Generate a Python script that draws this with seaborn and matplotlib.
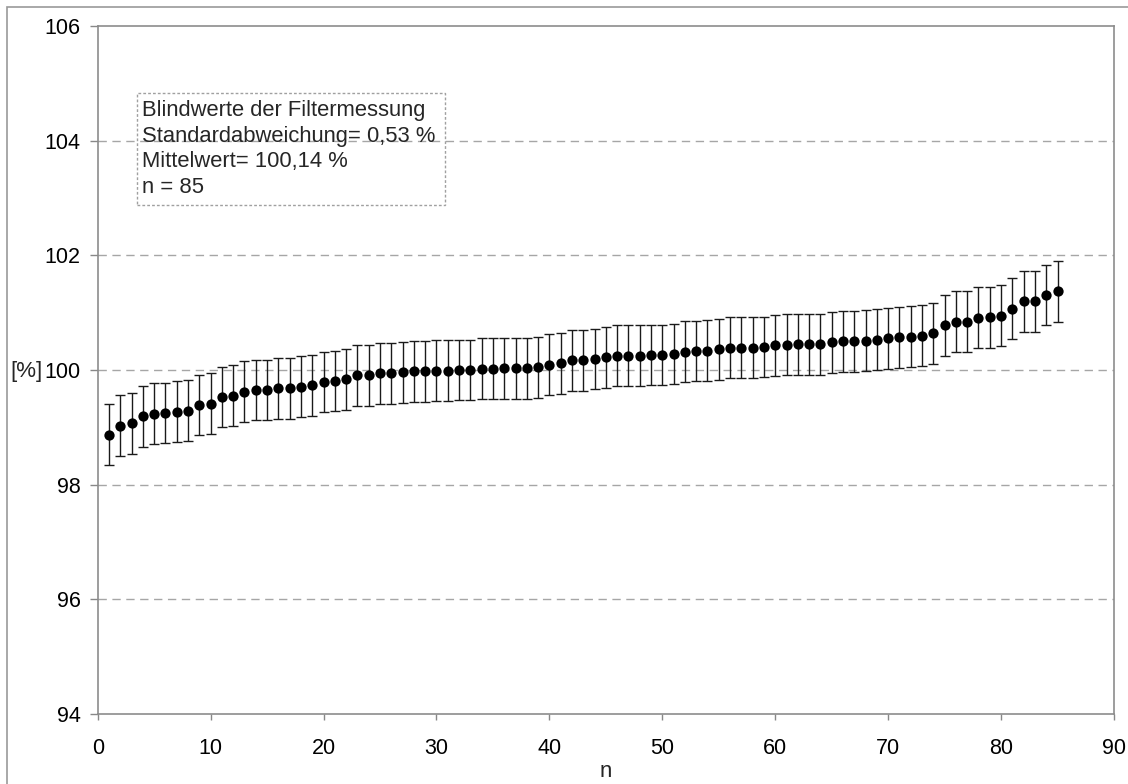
import matplotlib
matplotlib.use("Agg")
import matplotlib.pyplot as plt
import matplotlib.patches as mpatches
import seaborn as sns
import pandas as pd
import numpy as np

# ---- data ----
n_index = list(range(1, 86))
values = [98.87, 99.03, 99.07, 99.19, 99.24, 99.25, 99.27, 99.29, 99.39, 99.41,
          99.53, 99.55, 99.62, 99.65, 99.65, 99.68, 99.68, 99.71, 99.73, 99.79,
          99.81, 99.84, 99.91, 99.91, 99.94, 99.94, 99.96, 99.98, 99.98, 99.99,
          99.99, 100.00, 100.00, 100.02, 100.02, 100.03, 100.03, 100.03, 100.05, 100.09,
          100.12, 100.17, 100.17, 100.19, 100.22, 100.25, 100.25, 100.25, 100.26, 100.26,
          100.28, 100.32, 100.33, 100.34, 100.36, 100.39, 100.39, 100.39, 100.40, 100.43,
          100.44, 100.45, 100.45, 100.45, 100.48, 100.50, 100.50, 100.51, 100.53, 100.55,
          100.57, 100.58, 100.60, 100.64, 100.78, 100.84, 100.84, 100.91, 100.92, 100.95,
          101.07, 101.20, 101.20, 101.31, 101.37]
std_dev = 0.53
x_ticks = [0, 10, 20, 30, 40, 50, 60, 70, 80, 90]
y_ticks = [94, 96, 98, 100, 102, 104, 106]
info_lines = ["Blindwerte der Filtermessung",
              "Standardabweichung= 0,53 %",
              "Mittelwert= 100,14 %",
              "n = 85"]
x_label = "n"
y_label = "[%]"

df = pd.DataFrame({"n": n_index, "wert": values})

sns.set_theme(style="white")
plt.rcParams["font.family"] = ["Liberation Sans", "DejaVu Sans"]

fig = plt.figure(figsize=(11.28, 7.84), dpi=100)
ax = fig.add_axes([97.7 / 1128, 1 - 714 / 784, (1114 - 97.7) / 1128, (714 - 26) / 784])

# figure border (top & left visible)
fig.patches.append(mpatches.Rectangle((7 / 1128, -0.1), 1.2, 1 - 7 / 784 + 0.1,
                                      transform=fig.transFigure, fill=False,
                                      edgecolor="#999999", linewidth=1.2))

# grid lines
for yv in y_ticks[1:-1]:
    ax.axhline(yv, color="#a6a6a6", linewidth=1.0, linestyle=(0, (6, 4)), zorder=0)

ax.errorbar(df["n"], df["wert"], yerr=std_dev, fmt="none", ecolor="#1a1a1a",
            elinewidth=1.0, capsize=3.3, capthick=1.0, zorder=2)
sns.scatterplot(data=df, x="n", y="wert", ax=ax, color="black", s=55,
                edgecolor="black", linewidth=0, zorder=3)

ax.set_xlim(0, 90)
ax.set_ylim(94, 106)
ax.set_xticks(x_ticks)
ax.set_yticks(y_ticks)
ax.tick_params(axis="both", labelsize=15.5, colors="#888888", labelcolor="black",
               width=1.0, direction="out")
ax.tick_params(axis="x", length=4.5, pad=12.5)
ax.tick_params(axis="y", length=5.8, pad=6.5)
ax.xaxis.set_ticks_position("bottom")
ax.yaxis.set_ticks_position("left")
for s in ax.spines.values():
    s.set_color("#8c8c8c")
    s.set_linewidth(1.2)
    s.set_visible(True)

ax.set_xlabel(x_label, fontsize=16, labelpad=1.5)
ax.set_ylabel("")
fig.text(10 / 1128, 1 - 371 / 784, y_label, fontsize=16, ha="left", va="center")

# info box
x0, x1 = (136.5 - 97.7) / 1016.3, (445 - 97.7) / 1016.3
y0, y1 = (714 - 205) / 688, (714 - 93) / 688
ax.add_patch(mpatches.Rectangle((x0, y0), x1 - x0, y1 - y0, transform=ax.transAxes,
                                fill=False, edgecolor="#a0a0a0", linewidth=1.0,
                                linestyle=(0, (2, 1.5)), zorder=4))
ax.text((141.5 - 97.7) / 1016.3, (714 - 100) / 688, "\n".join(info_lines),
        transform=ax.transAxes, fontsize=15.8, ha="left", va="top",
        linespacing=1.29, zorder=5)

fig.savefig("out.png", dpi=100, facecolor="white")
